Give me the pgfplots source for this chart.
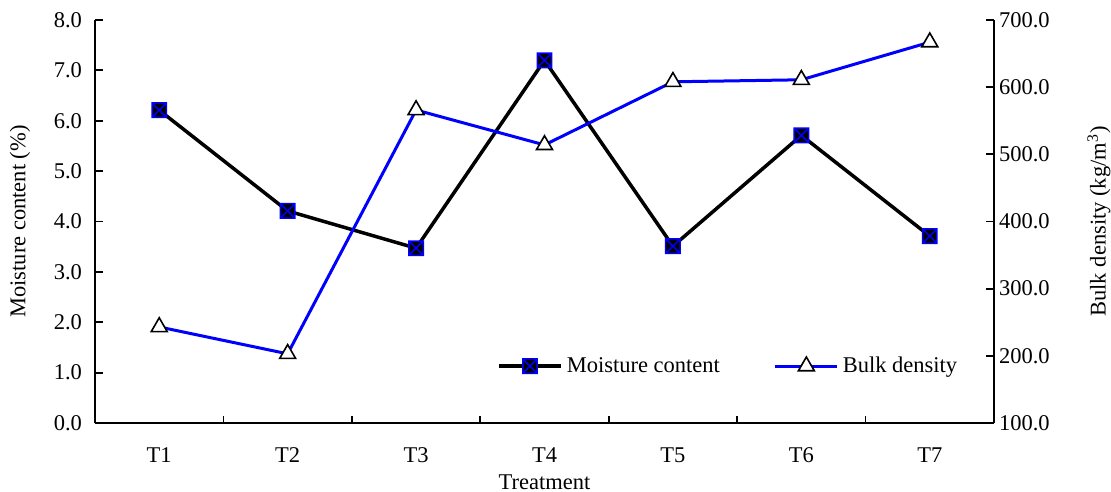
\documentclass[border=0pt]{standalone}
\usepackage{pgfplots}
\pgfplotsset{compat=1.18}
\usepackage{fontspec}
\setmainfont{Liberation Serif}

% square filled black, blue outline, blue cross
\pgfdeclareplotmark{sqx}{%
  \pgfsetcolor{black}%
  \pgfpathrectangle{\pgfqpoint{-\pgfplotmarksize}{-\pgfplotmarksize}}{\pgfqpoint{2\pgfplotmarksize}{2\pgfplotmarksize}}%
  \pgfusepathqfill
  \pgfsetcolor{blue}%
  \pgfpathrectangle{\pgfqpoint{-\pgfplotmarksize}{-\pgfplotmarksize}}{\pgfqpoint{2\pgfplotmarksize}{2\pgfplotmarksize}}%
  \pgfpathmoveto{\pgfqpoint{-\pgfplotmarksize}{-\pgfplotmarksize}}%
  \pgfpathlineto{\pgfqpoint{\pgfplotmarksize}{\pgfplotmarksize}}%
  \pgfpathmoveto{\pgfqpoint{-\pgfplotmarksize}{\pgfplotmarksize}}%
  \pgfpathlineto{\pgfqpoint{\pgfplotmarksize}{-\pgfplotmarksize}}%
  \pgfusepathqstroke}

\pgfplotsset{
  common/.style={
    scale only axis, width=449.5bp, height=201.5bp,
    at={(47.5bp,34.5bp)}, anchor=south west,
    xmin=0.5, xmax=7.5,
    axis line style={line width=1bp},
    every tick/.style={black, line width=0.9bp},
    major tick length=4bp, minor tick length=3.5bp,
    tick align=inside,
    /pgf/number format/.cd, fixed, fixed zerofill, precision=1, assume math mode=true,
  },
  moist/.style={black, line width=1.75bp, mark=sqx, mark size=3.6bp, mark options={line width=0.75bp}},
  bulk/.style={blue, line width=1.5bp, mark=triangle*, mark size=4.6bp, mark options={fill=white, draw=black, line width=0.8bp}},
}

\begin{document}
\begin{tikzpicture}[font=\fontsize{11.25bp}{13bp}\selectfont]
\useasboundingbox (0,0) rectangle (555.5bp,246bp);

\begin{axis}[common,
    axis x line*=bottom, axis y line*=left,
    ymin=0, ymax=8, ytick={0,1,...,8},
    xtick={1,...,7}, xticklabels={T1,T2,T3,T4,T5,T6,T7},
    major x tick style={draw=none},
    minor xtick={1.5,2.5,...,6.5},
    xticklabel style={yshift=-9bp},
    yticklabel style={xshift=-3bp},
    xlabel={Treatment}, ylabel={Moisture content (\%)},
    xlabel style={yshift=1bp},
    ylabel style={yshift=5bp},
  ]
  \addplot[moist] coordinates {(1,6.21) (2,4.21) (3,3.47) (4,7.20) (5,3.51) (6,5.71) (7,3.71)};
\end{axis}

\begin{axis}[common,
    axis x line=none, axis y line*=right,
    ymin=100, ymax=700, ytick={100,200,...,700},
    ylabel={Bulk density (kg/m\textsuperscript{3})},
    ylabel style={yshift=-12bp},
    yticklabel style={xshift=-1bp},
    legend style={draw=none, fill=none, at={(0.447,0.141)}, anchor=west,
      /tikz/every even column/.append style={column sep=25bp},
      inner sep=0pt, nodes={inner sep=2bp}},
    legend columns=2,
    legend image code/.code={\draw[mark repeat=2, mark phase=2, #1] plot coordinates {(0bp,0bp) (15.5bp,0bp) (31bp,0bp)};},
  ]
  \addlegendimage{moist}
  \addlegendentry{Moisture content}
  \addplot[bulk] coordinates {(1,243) (2,203) (3,566) (4,514) (5,608) (6,611) (7,667)};
  \addlegendentry{Bulk density}
\end{axis}
\end{tikzpicture}
\end{document}
